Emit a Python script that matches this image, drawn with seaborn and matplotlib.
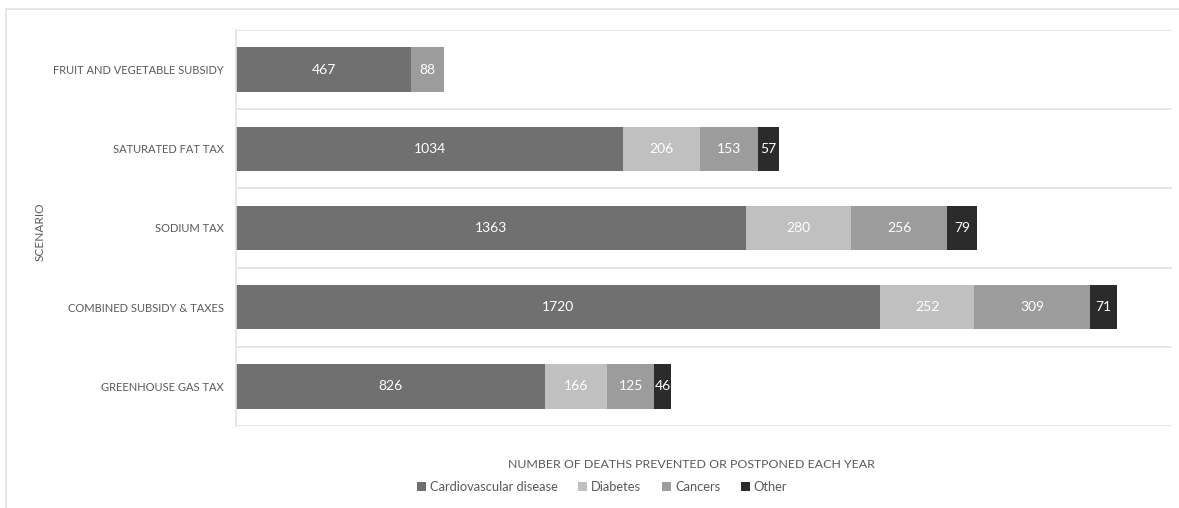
import matplotlib
matplotlib.use("Agg")
import matplotlib.pyplot as plt
from matplotlib.lines import Line2D
from matplotlib.patches import Patch
import numpy as np
import pandas as pd
import seaborn as sns

SCENARIOS = [
    "FRUIT AND VEGETABLE SUBSIDY",
    "SATURATED FAT TAX",
    "SODIUM TAX",
    "COMBINED SUBSIDY & TAXES",
    "GREENHOUSE GAS TAX",
]
SERIES = ["Cardiovascular disease", "Diabetes", "Cancers", "Other"]
CARDIO = [467, 1034, 1363, 1720, 826]
DIABETES = [0, 206, 280, 252, 166]
CANCERS = [88, 153, 256, 309, 125]
OTHER = [0, 57, 79, 71, 46]

COLORS = {
    "Cardiovascular disease": "#707070",
    "Diabetes": "#c0c0c0",
    "Cancers": "#9c9c9c",
    "Other": "#2b2b2b",
}
TEXT = "#595959"
GRID = "#e2e2e2"

sns.set_theme(style="white")
plt.rcParams["font.family"] = ["Lato", "DejaVu Sans"]

df = pd.DataFrame(
    {"scenario": SCENARIOS, "Cardiovascular disease": CARDIO, "Diabetes": DIABETES,
     "Cancers": CANCERS, "Other": OTHER}
)
cum = df[SERIES].cumsum(axis=1)

fig = plt.figure(figsize=(11.79, 5.08), dpi=100)
W, H = 1179, 508
ax = fig.add_axes([236 / W, (H - 426) / H, (1172 - 236) / W, (426 - 30) / H])

# stacked bars: draw cumulative totals from the outermost series inwards
for s in reversed(SERIES):
    sns.barplot(
        x=cum[s], y=df["scenario"], orient="h", order=SCENARIOS,
        color=COLORS[s], saturation=1, width=0.56, ax=ax, linewidth=0,
    )

for i, sc in enumerate(SCENARIOS):
    for s in SERIES:
        v = df.loc[i, s]
        if v <= 0:
            continue
        ax.text(cum.loc[i, s] - v / 2, i, f"{v}", ha="center", va="center",
                color="white", fontsize=10)

ax.set_xlim(0, 2500)
ax.set_ylim(len(SCENARIOS) - 0.5, -0.5)
for b in np.arange(-0.5, len(SCENARIOS) + 0.5, 1):
    ax.axhline(b, color=GRID, linewidth=1.2, zorder=0)
ax.set_xticks([])
ax.set_xlabel("")
ax.set_ylabel("")
ax.tick_params(axis="y", length=0, labelsize=8, labelcolor=TEXT, pad=9)
for side in ["top", "right", "bottom"]:
    ax.spines[side].set_visible(False)
ax.spines["left"].set_color(GRID)
ax.spines["left"].set_linewidth(1.2)

fig.text(691 / W, 1 - 464 / H, "NUMBER OF DEATHS PREVENTED OR POSTPONED EACH YEAR",
         ha="center", va="center", fontsize=8.9, color=TEXT)
fig.text(40 / W, 1 - 232 / H, "SCENARIO", rotation=90, ha="center", va="center",
         fontsize=8.6, color=TEXT)

handles = [Patch(facecolor=COLORS[s], edgecolor="none") for s in SERIES]
fig.legend(handles, SERIES, loc="center", bbox_to_anchor=(602 / W, 1 - 487 / H),
           ncol=4, frameon=False, fontsize=9.3, labelcolor=TEXT,
           handlelength=0.7, handleheight=0.7, handletextpad=0.3, columnspacing=1.6)

# outer chart frame
fig.add_artist(Line2D([6 / W, 1], [1 - 9 / H, 1 - 9 / H], color=GRID, linewidth=1.2,
                      transform=fig.transFigure))
fig.add_artist(Line2D([6 / W, 6 / W], [0, 1 - 9 / H], color=GRID, linewidth=1.2,
                      transform=fig.transFigure))

fig.savefig("out.png", dpi=100)
